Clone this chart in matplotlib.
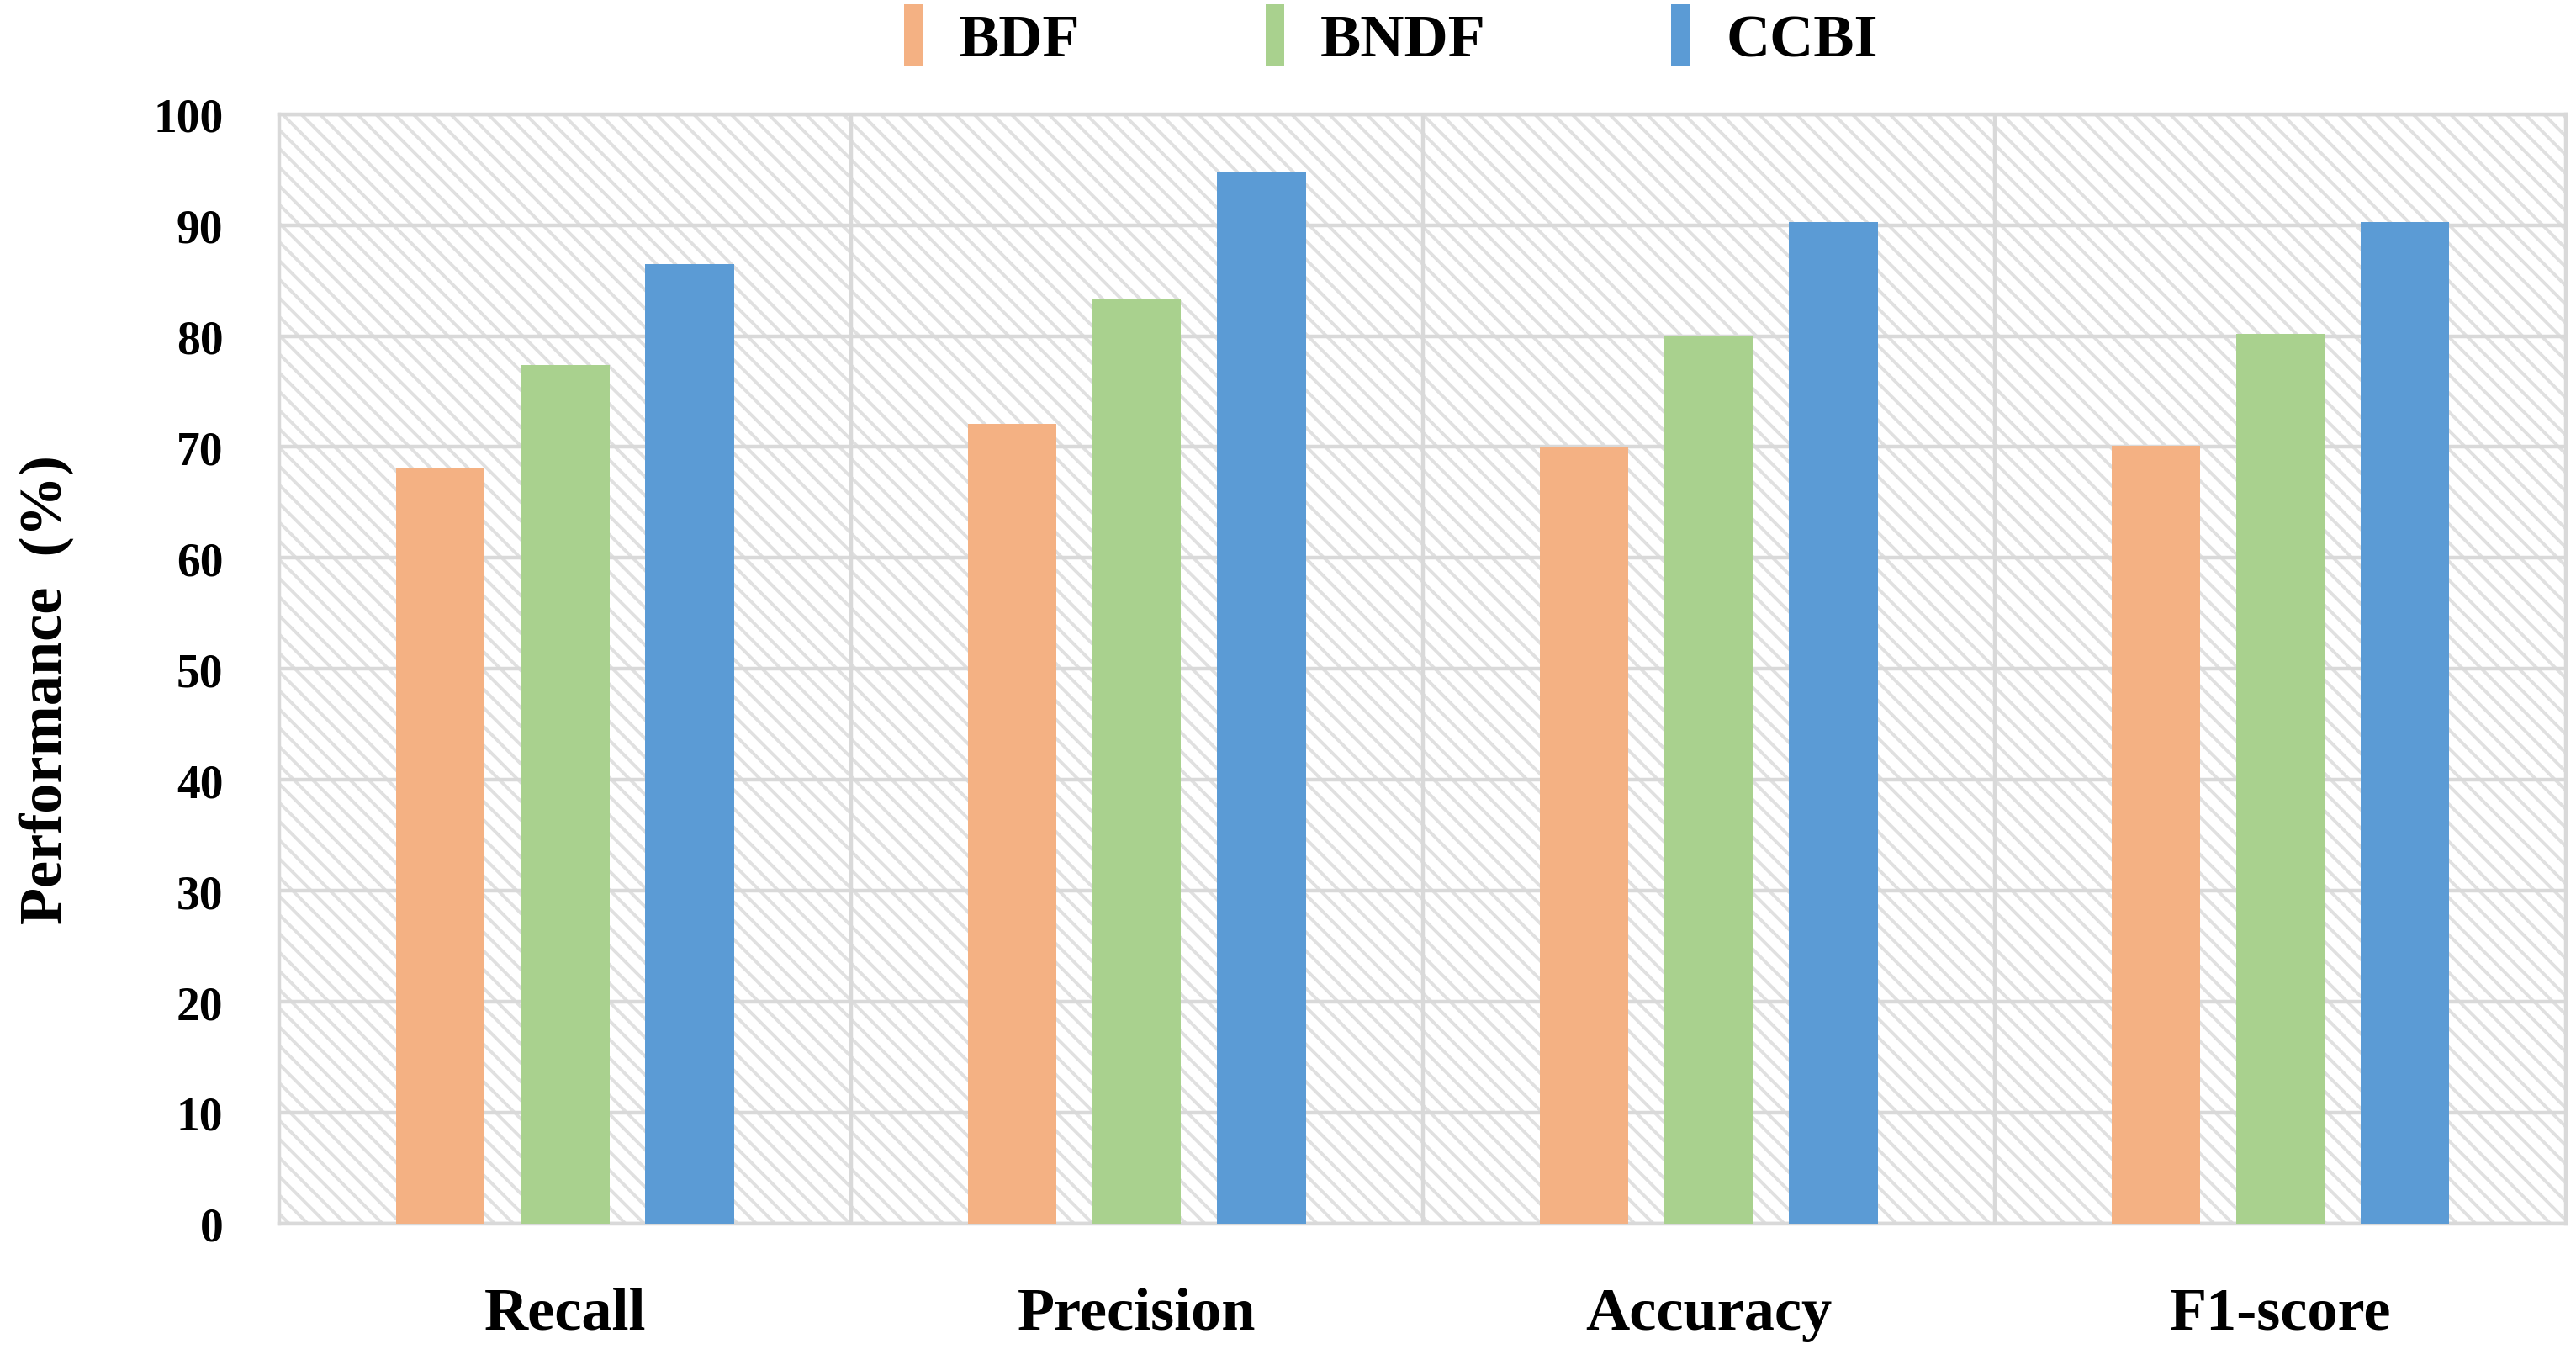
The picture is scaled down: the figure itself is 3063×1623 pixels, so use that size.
import numpy as np
import matplotlib
matplotlib.use("Agg")
import matplotlib.pyplot as plt
from matplotlib.patches import Rectangle

# values
metrics = ["Recall", "Precision", "Accuracy", "F1-score"]
bdf = [68.1, 72.1, 70.0, 70.1]
bndf = [77.4, 83.3, 80.0, 80.2]
ccbi = [86.5, 94.8, 90.3, 90.3]
y_ticks = [0, 10, 20, 30, 40, 50, 60, 70, 80, 90, 100]

series = [("BDF", bdf, "#F4B183"), ("BNDF", bndf, "#A9D18E"), ("CCBI", ccbi, "#5B9BD5")]

plt.rcParams["font.family"] = ["Liberation Serif", "DejaVu Serif"]
plt.rcParams["font.weight"] = "bold"
plt.rcParams["hatch.linewidth"] = 1.4

fig = plt.figure(figsize=(15.315, 8.12), dpi=200)
ax = fig.add_axes([0.1084, 0.1035, 0.8878, 0.8123])

grid_col = "#d9d9d9"

# hatched plot area background
bg = Rectangle((0, 0), 1, 1, transform=ax.transAxes, facecolor="white",
               edgecolor="#e0e0e0", hatch="\\\\\\", lw=0, zorder=0)
ax.add_patch(bg)

x = np.arange(len(metrics))
offsets = [-0.218, 0.0, 0.218]
for (name, vals, color), off in zip(series, offsets):
    ax.bar(x + off, vals, width=0.155, color=color, label=name, zorder=3)

ax.set_xlim(-0.5, len(metrics) - 0.5)
ax.set_ylim(0, 100)
ax.set_yticks(y_ticks)
ax.set_xticks(x)
ax.set_xticklabels(metrics, fontsize=26, fontweight="bold")
ax.set_xticks(np.arange(len(metrics) - 1) + 0.5, minor=True)
ax.tick_params(axis="y", labelsize=20, length=0, pad=24)
ax.tick_params(axis="x", which="both", length=0, pad=27)
for lab in ax.get_yticklabels():
    lab.set_fontweight("bold")

ax.grid(axis="y", which="major", color=grid_col, lw=1.6, zorder=1)
ax.grid(axis="x", which="minor", color=grid_col, lw=1.6, zorder=1)
ax.grid(axis="x", which="major", visible=False)
for s in ax.spines.values():
    s.set_color(grid_col)
    s.set_linewidth(1.6)
    s.set_zorder(1)

fig.text(0.018, 0.495, "Performance  (%)", rotation=90, ha="center", va="center",
         fontsize=26, fontweight="bold")

fig.legend(loc="center", bbox_to_anchor=(0.54, 0.973), ncol=3, frameon=False,
           fontsize=26, handlelength=0.3, handleheight=1.2, handletextpad=0.6,
           columnspacing=3.05)

fig.savefig("out.png", dpi=200)
